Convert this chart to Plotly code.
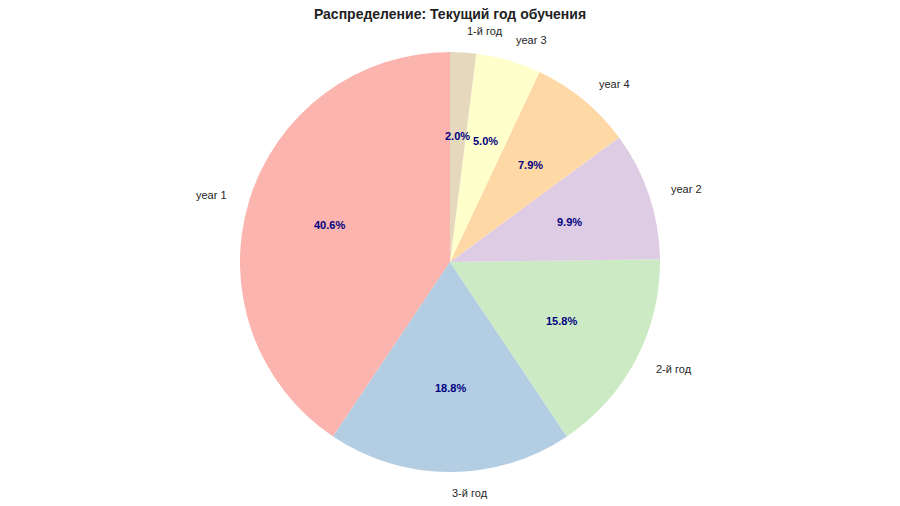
import math
import plotly.graph_objects as go

labels = ["year 1", "3-й год", "2-й год", "year 2", "year 4", "year 3", "1-й год"]
values = [40.6, 18.8, 15.8, 9.9, 7.9, 5.0, 2.0]
colors = ["#fbb4ae", "#b3cde3", "#ccebc5", "#decbe4", "#fed9a6", "#ffffcc", "#e5d8bd"]
title = "Распределение: Текущий год обучения"

W, H = 900, 506
CX, CY, R = 450, 262, 210  # pixel centre / radius of the pie
FONT = "Liberation Sans, Arial, sans-serif"

total = sum(values)

fig = go.Figure(go.Pie(
    labels=labels, values=values, sort=False, direction="counterclockwise",
    rotation=-360 * values[0] / total, marker=dict(colors=colors, line=dict(width=0)),
    textinfo="none", hoverinfo="label+percent", showlegend=False,
    domain=dict(x=[(CX - R) / W, (CX + R) / W], y=[(H - CY - R) / H, (H - CY + R) / H]),
))

cum = 0.0
annotations = []
for lab, v in zip(labels, values):
    mid = 90 + 360 * (cum + v / 2) / total
    cum += v
    th = math.radians(mid)
    c, s = math.cos(th), math.sin(th)
    lx = CX + 1.1 * R * c
    ly = CY - 1.1 * R * s
    annotations.append(dict(
        x=lx / W, y=1 - ly / H, xref="paper", yref="paper", text=lab, showarrow=False,
        xanchor="left" if c >= -1e-9 else "right", yanchor="middle",
        font=dict(family=FONT, size=11, color="#262626"),
    ))
    px = CX + 0.6 * R * c
    py = CY - 0.6 * R * s
    annotations.append(dict(
        x=px / W, y=1 - py / H, xref="paper", yref="paper",
        text="<b>%.1f%%</b>" % (100 * v / total), showarrow=False,
        xanchor="center", yanchor="middle",
        font=dict(family=FONT, size=11, color="#000080"),
    ))

fig.update_layout(
    width=W, height=H, margin=dict(l=0, r=0, t=0, b=0),
    paper_bgcolor="white", plot_bgcolor="white",
    title=dict(text="<b>" + title + "</b>", x=0.5, xanchor="center",
               y=1 - 14 / H, yanchor="middle", yref="container",
               font=dict(family=FONT, size=14, color="#222222")),
    annotations=annotations,
)
fig.write_html("out.html", config={"displayModeBar": False},
               post_script="document.body.style.margin='0';")
